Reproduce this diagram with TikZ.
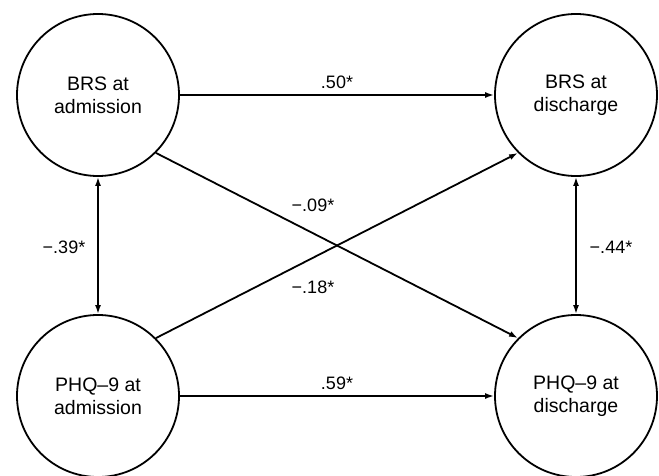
\documentclass[tikz,border=0pt]{standalone}
\usepackage{fontspec}
\setmainfont{Liberation Sans}
\usetikzlibrary{arrows.meta}
\begin{document}
\begin{tikzpicture}[x=1pt,y=1pt,
  var/.style={draw, circle, line width=1.8pt, minimum size=162pt, inner sep=0pt,
    align=center, font=\fontsize{19.5}{23}\selectfont},
  path/.style={line width=1.8pt, -{Latex[length=9pt,width=6pt]}},
  cov/.style={line width=1.8pt, {Latex[length=9pt,width=6pt]}-{Latex[length=9pt,width=6pt]}},
  lab/.style={font=\fontsize{18}{21}\selectfont, inner sep=0pt}]
\useasboundingbox (0,0) rectangle (659,475);
\node[var] (ba) at (98,380) {BRS at\\admission};
\node[var] (bd) at (576,380) {BRS at\\discharge};
\node[var] (pa) at (98,79) {PHQ–9 at\\admission};
\node[var] (pd) at (576,79) {PHQ–9 at\\discharge};
\draw[path] (ba) -- (bd);
\draw[path] (pa) -- (pd);
\draw[cov] (ba) -- (pa);
\draw[cov] (bd) -- (pd);
\draw[path] (ba.south east) -- (pd.north west);
\draw[path] (pa.north east) -- (bd.south west);
\node[lab] (l50) at (337,393) {.50*};
\node[lab] (l59) at (337,92) {.59*};
\node[lab] (l39) at (64,228) {−.39*};
\node[lab] (l44) at (611,228) {−.44*};
\node[lab] (l09) at (313,270) {−.09*};
\node[lab] (l18) at (313,188) {−.18*};
\end{tikzpicture}
\end{document}
